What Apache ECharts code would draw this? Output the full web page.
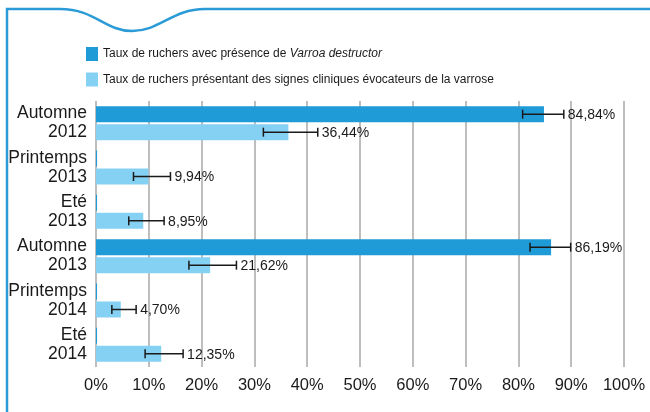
<!DOCTYPE html>
<html>
<head>
<meta charset="utf-8">
<script src="https://cdn.jsdelivr.net/npm/echarts@6/dist/echarts.min.js"></script>
<style>
html, body { margin: 0; padding: 0; background: #fff; }
#chart { width: 650px; height: 412px; }
</style>
</head>
<body>
<div id="chart"></div>
<script>
// catégories (axe vertical, de haut en bas)
var categories = ['Automne\n2012', 'Printemps\n2013', 'Eté\n2013', 'Automne\n2013', 'Printemps\n2014', 'Eté\n2014'];
// présence de Varroa destructor (%)
var presence = [84.84, 0.2, 0.2, 86.19, 0.2, 0.2];
var presenceLow = [80.8, null, null, 82.2, null, null];
var presenceHigh = [88.6, null, null, 89.9, null, null];
// signes cliniques de varrose (%)
var signes = [36.44, 9.94, 8.95, 21.62, 4.70, 12.35];
var signesLow = [31.7, 7.1, 6.2, 17.6, 3.0, 9.3];
var signesHigh = [42.0, 14.1, 12.9, 26.6, 7.6, 16.5];

var FONT = "'Liberation Sans', Arial, sans-serif";
var DARK = '#1f9bd7';
var LIGHT = '#85d1f4';
var FRAME = '#2a9bd6';
var BAR_W = 16;
var BAR_GAP = 2;

function fmt(v) {
    return v.toFixed(2).replace('.', ',') + '%';
}

function errData(low, high, vals) {
    var out = [];
    for (var i = 0; i < vals.length; i++) {
        if (low[i] == null) continue;
        out.push([low[i], high[i], i, vals[i]]);
    }
    return out;
}

function errRender(shift) {
    return function (params, api) {
        var a = api.coord([api.value(0), api.value(2)]);
        var b = api.coord([api.value(1), api.value(2)]);
        var y = a[1] + shift;
        var cap = 4.5;
        var st = { stroke: '#1a1a1a', lineWidth: 1.5 };
        return {
            type: 'group',
            children: [
                { type: 'line', shape: { x1: a[0], y1: y, x2: b[0], y2: y }, style: st },
                { type: 'line', shape: { x1: a[0], y1: y - cap, x2: a[0], y2: y + cap }, style: st },
                { type: 'line', shape: { x1: b[0], y1: y - cap, x2: b[0], y2: y + cap }, style: st },
                {
                    type: 'text',
                    x: b[0] + 4,
                    y: y + 1,
                    style: {
                        text: fmt(api.value(3)),
                        font: '14px ' + FONT,
                        fill: '#1a1a1a',
                        verticalAlign: 'middle',
                        align: 'left'
                    }
                }
            ]
        };
    };
}

var frameStyle = { fill: null, stroke: FRAME, lineWidth: 2.5 };

var chart = echarts.init(document.getElementById('chart'));
chart.setOption({
    backgroundColor: '#fff',
    animation: false,
    textStyle: { fontFamily: FONT },
    graphic: [
        { type: 'polyline', shape: { points: [[7, 412], [7, 9], [60, 9]] }, style: frameStyle },
        { type: 'bezierCurve', shape: { x1: 60, y1: 9, cpx1: 95, cpy1: 9, cpx2: 105, cpy2: 31, x2: 132, y2: 31 }, style: frameStyle },
        { type: 'bezierCurve', shape: { x1: 132, y1: 31, cpx1: 160, cpy1: 31, cpx2: 172, cpy2: 9, x2: 205, y2: 9 }, style: frameStyle },
        { type: 'line', shape: { x1: 205, y1: 9, x2: 650, y2: 9 }, style: frameStyle }
    ],
    legend: {
        orient: 'vertical',
        left: 86,
        top: 47,
        padding: 0,
        icon: 'rect',
        itemWidth: 12,
        itemHeight: 14,
        itemGap: 11.5,
        selectedMode: false,
        data: ['presence', 'signes'],
        formatter: function (name) {
            return name === 'presence'
                ? 'Taux de ruchers avec présence de {i|Varroa destructor}'
                : 'Taux de ruchers présentant des signes cliniques évocateurs de la varrose';
        },
        textStyle: {
            fontSize: 12,
            color: '#1a1a1a',
            fontFamily: FONT,
            rich: { i: { fontSize: 12, fontStyle: 'italic', color: '#1a1a1a', fontFamily: FONT } }
        }
    },
    grid: { left: 96, right: 26, top: 101, bottom: 45, outerBoundsMode: 'none', containLabel: false },
    xAxis: {
        type: 'value',
        min: 0,
        max: 100,
        interval: 10,
        axisLine: { show: false },
        axisTick: { show: false },
        axisLabel: { formatter: '{value}%', fontSize: 16.5, color: '#1a1a1a', margin: 10, fontFamily: FONT },
        splitLine: { show: true, lineStyle: { color: '#a8a8a8', width: 1.5 } }
    },
    yAxis: {
        type: 'category',
        inverse: true,
        data: categories,
        axisLine: { show: false },
        axisTick: { show: false },
        axisLabel: { fontSize: 17.5, lineHeight: 19, color: '#1a1a1a', margin: 9, align: 'right', fontFamily: FONT }
    },
    series: [
        {
            name: 'presence',
            type: 'bar',
            barWidth: BAR_W,
            barGap: (BAR_GAP / BAR_W * 100) + '%',
            itemStyle: { color: DARK },
            data: presence
        },
        {
            name: 'signes',
            type: 'bar',
            barWidth: BAR_W,
            itemStyle: { color: LIGHT },
            data: signes
        },
        {
            type: 'custom',
            renderItem: errRender(-(BAR_W + BAR_GAP) / 2),
            encode: { x: [0, 1], y: 2 },
            data: errData(presenceLow, presenceHigh, presence),
            z: 5
        },
        {
            type: 'custom',
            renderItem: errRender((BAR_W + BAR_GAP) / 2),
            encode: { x: [0, 1], y: 2 },
            data: errData(signesLow, signesHigh, signes),
            z: 5
        }
    ]
});
</script>
</body>
</html>
